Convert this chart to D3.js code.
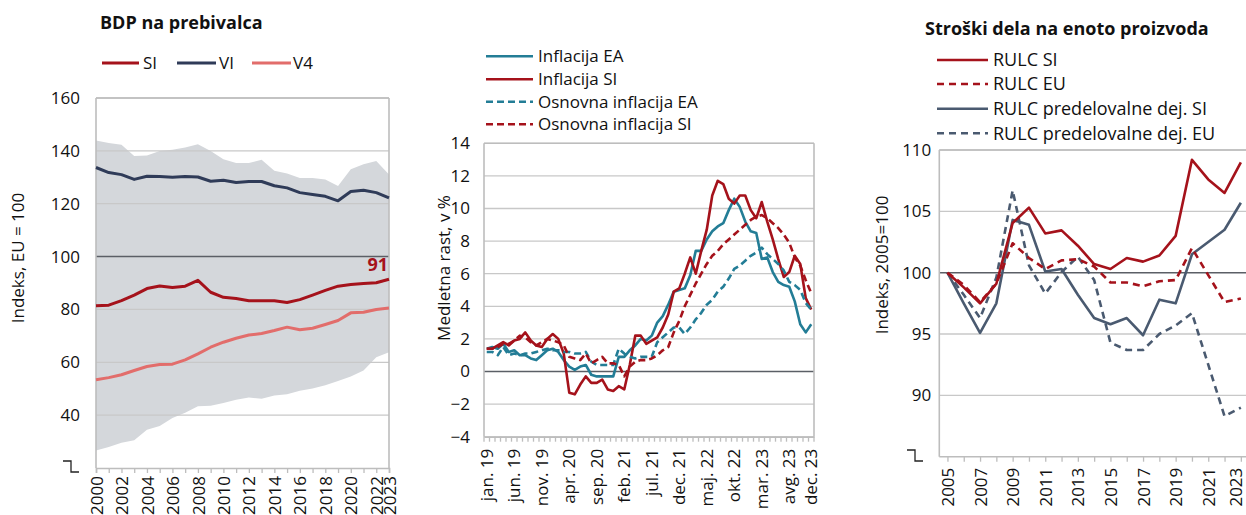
<!DOCTYPE html>
<html><head><meta charset="utf-8">
<script src="https://cdn.jsdelivr.net/npm/d3@7"></script>
<style>body{margin:0;background:#fff;} svg text{font-family:'Open Sans',sans-serif;}</style>
</head><body>
<script>
// ---------- DATA ----------
// Chart 1: BDP na prebivalca (EU = 100)
const years1 = d3.range(2000, 2024);
const bdpSI  = [81.4,81.6,83.3,85.4,87.9,88.9,88.3,88.8,91.0,86.5,84.6,84.1,83.3,83.3,83.3,82.6,83.7,85.4,87.2,88.8,89.4,89.8,90.1,91.4];
const bdpVI  = [133.7,131.8,131.0,129.2,130.4,130.3,130.0,130.3,130.1,128.5,128.9,128.0,128.4,128.4,126.8,126.0,124.2,123.5,122.8,121.1,124.6,125.1,124.2,122.2];
const bdpV4  = [53.4,54.2,55.3,56.9,58.4,59.2,59.3,60.9,63.2,65.7,67.6,69.1,70.3,70.9,72.0,73.3,72.3,72.9,74.3,75.8,78.7,78.9,80.0,80.5];
const bandLow  = [26.6,27.9,29.6,30.5,34.5,35.9,38.9,40.9,43.4,43.6,44.6,45.8,46.7,46.2,47.4,47.9,49.2,50.1,51.3,52.9,54.6,56.9,61.9,63.8];
const bandHigh = [143.9,143.0,142.3,138.1,138.2,139.9,140.4,141.3,142.5,139.9,136.8,135.4,135.4,136.6,132.5,131.4,129.7,129.7,129.2,126.7,133.0,134.9,136.2,131.1];
const yTicks1 = [40,60,80,100,120,140,160];
const xLabels1 = [2000,2002,2004,2006,2008,2010,2012,2014,2016,2018,2020,2022,2023];

// Chart 2: inflacija (medletna rast, v %), jan. 2019 – dec. 2023
const monthNames = ["jan.","feb.","mar.","apr.","maj.","jun.","jul.","avg.","sep.","okt.","nov.","dec."];
const monthYears = ["19","20","21","22","23"];
const inflEA  = [1.4,1.5,1.4,1.7,1.2,1.3,1.0,1.0,0.8,0.7,1.0,1.3, 1.4,1.2,0.7,0.3,0.1,0.3,0.4,-0.2,-0.3,-0.3,-0.3,-0.3, 0.9,0.9,1.3,1.6,2.0,1.9,2.2,3.0,3.4,4.1,4.9,5.0, 5.1,5.9,7.4,7.4,8.1,8.6,8.9,9.1,9.9,10.6,10.1,9.2, 8.6,8.5,6.9,7.0,6.1,5.5,5.3,5.2,4.3,2.9,2.4,2.9];
const inflSI  = [1.4,1.4,1.6,1.8,1.6,1.9,2.0,2.4,1.9,1.6,1.5,2.0, 2.3,2.0,1.1,-1.3,-1.4,-0.8,-0.3,-0.7,-0.7,-0.5,-1.1,-1.2, -0.9,-1.1,0.4,2.2,2.2,1.7,1.9,2.1,2.7,3.5,4.9,5.1, 6.0,7.0,6.0,7.4,8.7,10.8,11.7,11.5,10.6,10.3,10.8,10.8, 9.9,9.4,10.4,9.2,8.1,6.9,5.8,6.1,7.1,6.6,4.5,3.8];
const coreEA  = [1.2,1.2,1.0,1.5,1.0,1.1,1.0,1.1,1.1,1.2,1.3,1.4, 1.3,1.3,1.2,1.2,1.1,1.1,1.2,0.6,0.4,0.4,0.4,0.4, 1.4,1.1,0.9,0.8,0.9,0.9,0.9,1.8,2.1,2.4,2.7,2.7, 2.3,2.7,3.2,3.6,4.1,4.4,4.9,5.2,5.7,6.3,6.5,6.8, 7.1,7.3,7.6,7.2,6.9,6.6,6.2,5.5,5.3,5.0,4.2,3.8];
const coreSI  = [1.4,1.4,1.5,1.7,1.7,1.9,2.2,2.1,1.8,1.6,1.8,2.0, 1.9,1.8,1.6,0.9,0.8,0.7,1.1,0.5,0.7,0.9,0.5,0.5, 0.4,-0.3,0.3,0.6,0.7,0.7,0.8,1.0,1.3,1.5,2.4,3.1, 4.0,4.7,5.4,6.0,6.6,7.1,7.4,7.8,8.1,8.4,8.7,9.0, 9.3,9.5,9.6,9.4,9.1,8.8,8.4,7.9,7.0,6.5,5.6,4.8];
const yTicks2 = [-4,-2,0,2,4,6,8,10,12,14];
const xLabelEvery2 = 5;

// Chart 3: Stroški dela na enoto proizvoda (Indeks, 2005=100)
const years3 = d3.range(2005, 2024);
const rulcSI   = [100,98.8,97.5,99.1,104.05,105.3,103.2,103.45,102.2,100.7,100.3,101.2,100.9,101.4,103.0,109.2,107.6,106.5,109.0];
const rulcEU   = [100,99.0,97.6,99.1,102.4,101.2,100.3,101.0,101.1,100.5,99.2,99.2,98.9,99.3,99.4,102.0,99.8,97.6,97.9];
const rulcMfSI = [100,97.5,95.1,97.5,104.3,103.9,100.1,100.3,98.2,96.3,95.8,96.3,94.9,97.8,97.5,101.5,102.5,103.5,105.7];
const rulcMfEU = [100,98.2,96.3,99.6,106.7,100.6,98.3,100.05,101.3,99.4,94.3,93.7,93.7,95.0,95.7,96.7,92.5,88.3,89.0];
const yTicks3 = [90,95,100,105,110];
const xLabels3 = [2005,2007,2009,2011,2013,2015,2017,2019,2021,2023];

// ---------- STYLE ----------
const RED = "#a5121b", NAVY = "#2f3b58", SALMON = "#e26d6b", TEAL = "#237d96", SLATE = "#4a5a70";
const GRID = "#c8c8c8", FRAME = "#bdbdbd", BASE = "#5b5f66", BAND = "#d4d7db", TXT = "#111";

const svg = d3.select("body").append("svg").attr("width", 1246).attr("height", 515);

function grid(g, y, ticks, x0, x1, base) {
  g.selectAll(null).data(ticks).enter().append("line")
    .attr("x1", x0).attr("x2", x1).attr("y1", d => y(d)).attr("y2", d => y(d))
    .attr("stroke", d => d === base ? BASE : GRID).attr("stroke-width", d => d === base ? 1.6 : 1.3);
}
function yAxis(g, y, ticks, x, pad) {
  const a = g.append("g").attr("transform", `translate(${x},0)`)
    .call(d3.axisLeft(y).tickValues(ticks).tickSize(0).tickPadding(pad));
  a.select(".domain").remove();
  a.selectAll("text").attr("font-size", 17).attr("fill", TXT).attr("font-family", "'Open Sans',sans-serif");
}
function rotLabels(sel, off) {
  sel.selectAll("text").attr("transform", "rotate(-90)").attr("text-anchor", "end")
    .attr("x", -off).attr("y", 0).attr("dy", "0.36em")
    .attr("font-size", 17).attr("fill", TXT).attr("font-family", "'Open Sans',sans-serif");
}
function yTitle(g, text, x, y) {
  g.append("text").attr("transform", `translate(${x},${y}) rotate(-90)`).attr("text-anchor", "middle")
    .attr("dy", "0.36em").attr("font-size", 17).attr("fill", TXT).text(text);
}
function frame(g, x0, x1, y0, y1, sides) {
  const p = {top: [x0, y0, x1, y0], right: [x1, y0, x1, y1], left: [x0, y0, x0, y1], bottom: [x0, y1, x1, y1]};
  sides.forEach(s => g.append("line").attr("x1", p[s][0]).attr("y1", p[s][1]).attr("x2", p[s][2]).attr("y2", p[s][3])
    .attr("stroke", FRAME).attr("stroke-width", 1.6));
}
function breakMark(g, x, y) {
  g.append("path").attr("d", `M${x - 8},${y} H${x} V${y + 11} H${x + 8}`)
    .attr("fill", "none").attr("stroke", "#222").attr("stroke-width", 1.3);
}
function legendLine(g, x0, x1, y, color, dash, label, tx, w, fs) {
  g.append("line").attr("x1", x0).attr("x2", x1).attr("y1", y).attr("y2", y)
    .attr("stroke", color).attr("stroke-width", w || 3).attr("stroke-dasharray", dash || null);
  g.append("text").attr("x", tx).attr("y", y).attr("dy", "0.36em").attr("font-size", fs || 17).attr("fill", TXT).text(label);
}

// ---------- CHART 1 ----------
{
  const g = svg.append("g");
  const L = 96, R = 389, T = 98, B = 468;
  const x = d3.scalePoint().domain(years1).range([L, R]);
  const y = d3.scaleLinear().domain([20, 160]).range([B, T]);
  const rows = years1.map((yr, i) => ({yr, lo: bandLow[i], hi: bandHigh[i]}));
  g.append("path").datum(rows).attr("fill", BAND)
    .attr("d", d3.area().x(d => x(d.yr)).y0(d => y(d.lo)).y1(d => y(d.hi)));
  grid(g, y, yTicks1, L, R, 100);
  frame(g, L, R, T, B, ["top", "right", "left"]);
  yAxis(g, y, yTicks1, L, 16);
  const xa = g.append("g").attr("transform", `translate(0,${B})`)
    .call(d3.axisBottom(x).tickSize(5).tickFormat(d => xLabels1.includes(d) ? d : ""));
  xa.select(".domain").attr("stroke", FRAME).attr("stroke-width", 1.6);
  xa.selectAll(".tick line").attr("stroke", FRAME).attr("stroke-width", 1.3);
  rotLabels(xa, 8);
  const line = d3.line().x((d, i) => x(years1[i])).y(d => y(d));
  [[bdpV4, SALMON], [bdpVI, NAVY], [bdpSI, RED]].forEach(([d, c]) =>
    g.append("path").datum(d).attr("d", line).attr("fill", "none").attr("stroke", c).attr("stroke-width", 3).attr("stroke-linejoin", "round"));
  g.append("text").attr("x", x(2023) - 1).attr("y", y(bdpSI[23]) - 8).attr("text-anchor", "end")
    .attr("font-size", 18).attr("font-weight", 700).attr("fill", RED).text(Math.round(bdpSI[23]));
  g.append("text").attr("x", 100).attr("y", 29).attr("font-size", 18).attr("font-weight", 700).attr("fill", TXT).text("BDP na prebivalca");
  legendLine(g, 102, 139, 63, RED, null, "SI", 143);
  legendLine(g, 177, 216, 63, NAVY, null, "VI", 219);
  legendLine(g, 252, 291, 63, SALMON, null, "V4", 293);
  yTitle(g, "Indeks, EU = 100", 18, 258);
  breakMark(g, 71, 461);
}

// ---------- CHART 2 ----------
{
  const g = svg.append("g");
  const L = 484, R = 814, T = 143.3, B = 436.7;
  const months = [];
  monthYears.forEach(yy => monthNames.forEach(m => months.push(m + " " + yy)));
  const x = d3.scaleBand().domain(months).range([L, R]);
  const y = d3.scaleLinear().domain([-4, 14]).range([B, T]);
  grid(g, y, yTicks2, L, R, 0);
  frame(g, L, R, T, B, ["top", "right", "left"]);
  yAxis(g, y, yTicks2, L, 14);
  const shown = months.filter((m, i) => i % xLabelEvery2 === 0 || i === months.length - 1);
  const xa = g.append("g").attr("transform", `translate(0,${B})`)
    .call(d3.axisBottom(x).tickValues(shown).tickSize(0));
  xa.select(".domain").attr("stroke", FRAME).attr("stroke-width", 1.6);
  rotLabels(xa, 12);
  g.selectAll(null).data(months.map(m => x(m)).concat([x.range()[1]])).enter().append("line")
    .attr("x1", d => d).attr("x2", d => d).attr("y1", B).attr("y2", B + 5).attr("stroke", FRAME).attr("stroke-width", 1.3);
  const line = d3.line().x((d, i) => x(months[i]) + x.bandwidth() / 2).y(d => y(d));
  [[inflEA, TEAL, null], [inflSI, RED, null], [coreEA, TEAL, "7,4"], [coreSI, RED, "7,4"]].forEach(([d, c, da]) =>
    g.append("path").datum(d).attr("d", line).attr("fill", "none").attr("stroke", c).attr("stroke-width", 2.6)
      .attr("stroke-dasharray", da).attr("stroke-linejoin", "round"));
  legendLine(g, 486, 533, 56.3, TEAL, null, "Inflacija EA", 538, 2.6);
  legendLine(g, 486, 533, 79.3, RED, null, "Inflacija SI", 538, 2.6);
  legendLine(g, 486, 533, 101.7, TEAL, "7,4", "Osnovna inflacija EA", 538, 2.6);
  legendLine(g, 486, 533, 124.3, RED, "7,4", "Osnovna inflacija SI", 538, 2.6);
  yTitle(g, "Medletna rast, v %", 443.5, 268);
}

// ---------- CHART 3 ----------
{
  const g = svg.append("g");
  const L = 939.3, R = 1249, T = 150, B = 456.7;
  const band = (R - L) / years3.length;
  const x = d3.scalePoint().domain(years3).range([L + band / 2, R - band / 2]);
  const y = d3.scaleLinear().domain([85, 110]).range([B, T]);
  grid(g, y, yTicks3, L, R, 100);
  frame(g, L, R, T, B, ["top", "left"]);
  yAxis(g, y, yTicks3, L, 8);
  const xa = g.append("g").attr("transform", `translate(0,${B})`)
    .call(d3.axisBottom(x).tickSize(5).tickFormat(d => xLabels3.includes(d) ? d : ""));
  xa.select(".domain").remove();
  g.append("line").attr("x1", L).attr("x2", R).attr("y1", B).attr("y2", B).attr("stroke", FRAME).attr("stroke-width", 1.6);
  xa.selectAll(".tick line").attr("stroke", FRAME).attr("stroke-width", 1.3);
  rotLabels(xa, 11);
  // keep the last label inside the picture edge
  xa.selectAll(".tick").filter(d => d === years3[years3.length - 1]).select("text").attr("dy", "0.02em");
  const line = d3.line().x((d, i) => x(years3[i])).y(d => y(d));
  [[rulcMfEU, SLATE, "7,5"], [rulcMfSI, SLATE, null], [rulcEU, RED, "7,5"], [rulcSI, RED, null]].forEach(([d, c, da]) =>
    g.append("path").datum(d).attr("d", line).attr("fill", "none").attr("stroke", c).attr("stroke-width", 2.6)
      .attr("stroke-dasharray", da).attr("stroke-linejoin", "round"));
  g.append("text").attr("x", 925).attr("y", 34.5).attr("font-size", 18).attr("font-weight", 700).attr("fill", TXT).text("Stroški dela na enoto proizvoda");
  legendLine(g, 937, 988, 60, RED, null, "RULC SI", 993, 2.6, 18);
  legendLine(g, 937, 988, 84, RED, "7,5", "RULC EU", 993, 2.6, 18);
  legendLine(g, 937, 988, 108.8, SLATE, null, "RULC predelovalne dej. SI", 993, 2.6, 18);
  legendLine(g, 937, 988, 133.3, SLATE, "7,5", "RULC predelovalne dej. EU", 993, 2.6, 18);
  yTitle(g, "Indeks, 2005=100", 881.5, 265);
  breakMark(g, 915, 450);
}
</script>
</body></html>
